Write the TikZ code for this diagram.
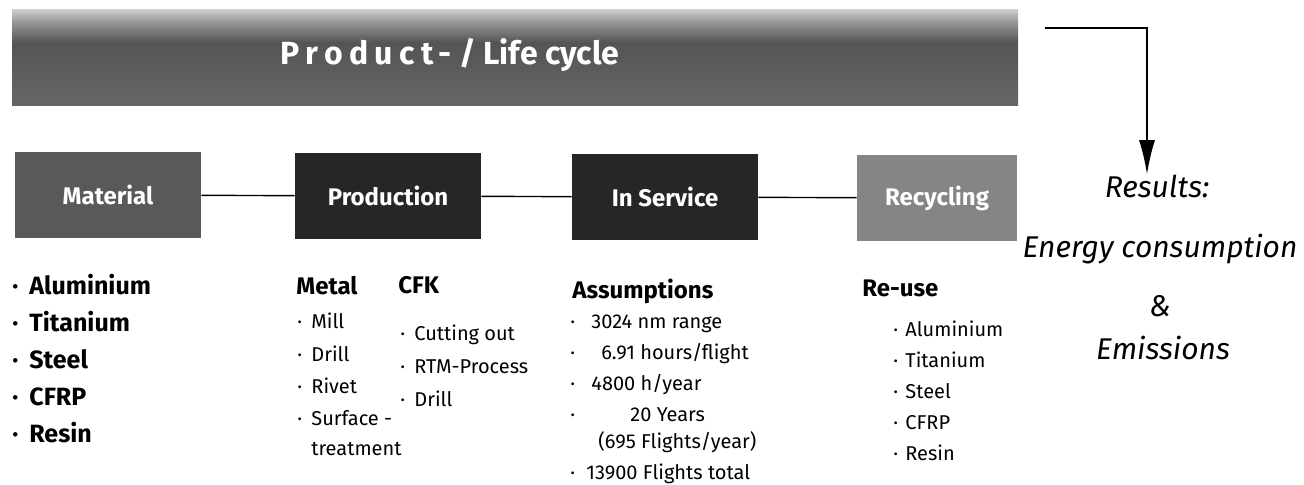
\documentclass[tikz,border=0pt]{standalone}
\usepackage{fontspec}
\setmainfont{Fira Sans}
\usetikzlibrary{arrows.meta}

\newcommand\dotitem[1]{\makebox[#1][l]{·}}

% light strip along the top edge, dark body below
\pgfdeclareverticalshading{bannershade}{100bp}{%
  color(0bp)=(black!60); color(25bp)=(black!60); color(58bp)=(black!67);
  color(69bp)=(black!40); color(75bp)=(black!20); color(100bp)=(black!20)}

\tikzset{
  stage/.style={minimum width=93pt, minimum height=43pt, inner sep=0pt, text=white,
    font=\bfseries\fontsize{12}{14}\selectfont},
  head/.style={anchor=north west, inner sep=0pt, font=\bfseries\fontsize{12}{14}\selectfont},
  items/.style={anchor=north west, inner sep=0pt, align=left, font=\fontsize{10}{15.5}\selectfont},
  result/.style={inner sep=0pt, font=\itshape\fontsize{15}{18}\selectfont},
  link/.style={line width=0.7pt}
}

\begin{document}
\begin{tikzpicture}[x=0.5pt, y=-0.5pt]
  \useasboundingbox (0,0) rectangle (1304,485);

  % banner over the whole chain
  \node[shading=bannershade, minimum width=503pt, minimum height=48pt, inner sep=0pt]
    (cycle) at (515,58) {};
  \node[text=white, font=\bfseries\fontsize{16}{18}\selectfont] (cycletitle) at (450,55)
    {{\addfontfeature{LetterSpace=20}Product-} / Life cycle};

  % the four stages
  \node[stage, fill=black!65] (material) at (108,195) {Material};
  \node[stage, fill=black!85] (production) at (388,196) {Production};
  \node[stage, fill=black!85] (service) at (665,197) {In Service};
  \node[stage, fill=black!48, minimum width=80pt] (recycling) at (937,198) {Recycling};
  \draw[link] (material) -- (production);
  \draw[link] (production) -- (service);
  \draw[link] (service) -- (recycling);

  % what comes out of it
  \node[result] (results) at (1157,186) {Results:};
  \node[result] (energy) at (1160,249) {Energy consumption};
  \node[result] (amp) at (1160,306) {\&};
  \node[result] (emissions) at (1163,348) {Emissions};
  \coordinate (feed) at (1045,28);
  \draw[link, -{Latex[length=17pt, width=8pt]}] (feed) -| ([xshift=-5pt]results.north);

  % material
  \node[items, font=\bfseries\fontsize{12.5}{18.5}\selectfont] (metals) at (12,274)
    {\dotitem{8.5pt}Aluminium\\\dotitem{8.5pt}Titanium\\\dotitem{8.5pt}Steel\\
     \dotitem{8.5pt}CFRP\\\dotitem{8.5pt}Resin};

  % production
  \node[head] (metalhead) at (296,276) {Metal};
  \node[items, font=\fontsize{10}{16}\selectfont] (metalsteps) at (297,313)
    {\dotitem{7pt}Mill\\\dotitem{7pt}Drill\\\dotitem{7pt}Rivet\\
     \dotitem{7pt}Surface -\\[-1pt]\hspace*{7pt}treatment};
  \node[head] (cfkhead) at (398,276) {CFK};
  \node[items, font=\fontsize{10}{16.5}\selectfont] (cfksteps) at (400,325)
    {\dotitem{7pt}Cutting out\\\dotitem{7pt}RTM-Process\\\dotitem{7pt}Drill};

  % in service
  \node[head] (assumhead) at (572,279) {Assumptions};
  \node[items] (assumptions) at (570,315)
    {\dotitem{10.5pt}3024 nm range\\\dotitem{15.5pt}6.91 hours/flight\\
     \dotitem{10.5pt}4800 h/year\\\dotitem{30pt}20 Years\\[-2pt]
     \hspace*{14pt}(695 Flights/year)\\\dotitem{8pt}13900 Flights total};

  % recycling
  \node[head] (reusehead) at (862,279) {Re-use};
  \node[items] (reuse) at (893,320)
    {\dotitem{6pt}Aluminium\\\dotitem{6pt}Titanium\\\dotitem{6pt}Steel\\
     \dotitem{6pt}CFRP\\\dotitem{6pt}Resin};
\end{tikzpicture}
\end{document}
